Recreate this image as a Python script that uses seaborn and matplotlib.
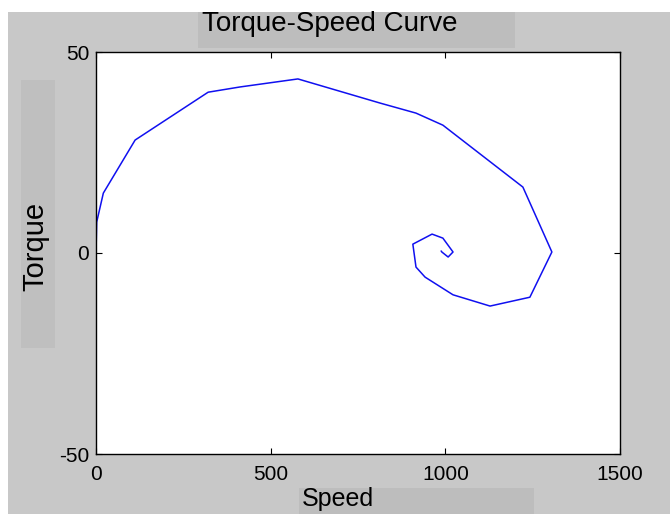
import pandas as pd
import matplotlib
matplotlib.use('Agg')
import matplotlib.pyplot as plt
from matplotlib import font_manager
from matplotlib.patches import Rectangle
import seaborn as sns

# Values
speed = [0, 2, 21, 112, 321, 412, 578, 813, 916, 993, 1222, 1305,
         1242, 1128, 1022, 942, 916, 907, 962, 993, 1022, 1008, 990, 988]
torque = [0, 7.7, 14.9, 28.1, 40.0, 41.3, 43.3, 37.3, 34.8, 31.8, 16.4, 0.25,
          -11.0, -13.2, -10.4, -6.0, -3.5, 2.2, 4.7, 3.7, 0.25, -1.0, 0.25, 0.5]
x_ticks = [0, 500, 1000, 1500]
y_ticks = [-50, 0, 50]

df = pd.DataFrame({'Speed': speed, 'Torque': torque})

sns.set_style('ticks')
names = {f.name for f in font_manager.fontManager.ttflist}
fam = 'Liberation Sans Narrow' if 'Liberation Sans Narrow' in names else 'Liberation Sans'
plt.rcParams['font.family'] = [fam, 'DejaVu Sans']
plt.rcParams['axes.unicode_minus'] = False
plt.rcParams['text.color'] = 'black'
plt.rcParams['axes.labelcolor'] = 'black'

W, H = 670, 514
fig = plt.figure(figsize=(W / 100, H / 100), dpi=100, facecolor='white')

# gray figure panel and the darker boxes behind the labels (pixel coords)
def box(x0, y0, x1, y1, color):
    fig.patches.append(Rectangle((x0 / W, 1 - y1 / H), (x1 - x0) / W, (y1 - y0) / H,
                                 transform=fig.transFigure, facecolor=color,
                                 edgecolor='none', zorder=-10))

box(8, 12, 670, 514, '#c8c8c8')
box(198, 12, 515, 48, '#bdbdbd')
box(21, 80, 55, 348, '#bfbfbf')
box(299, 488, 534, 514, '#bdbdbd')

ax = fig.add_axes([96 / W, 1 - 454 / H, (620 - 96) / W, (454 - 52) / H])
ax.set_facecolor('white')

sns.lineplot(data=df, x='Speed', y='Torque', sort=False, estimator=None,
             color='#1010f0', linewidth=1.1, ax=ax)

ax.set_xlim(0, 1500)
ax.set_ylim(-50, 50)
ax.set_xticks(x_ticks)
ax.set_yticks(y_ticks)
ax.tick_params(direction='in', length=4, width=0.8, top=True, right=True,
               labelsize=15, colors='black')
ax.tick_params(axis='x', pad=8)
ax.tick_params(axis='y', pad=5)
for s in ax.spines.values():
    s.set_visible(True)
    s.set_linewidth(1.0)
    s.set_color('black')

ax.set_title('Torque-Speed Curve', fontsize=20, x=0.4466, y=1.0498, va='center',
             color='black')
ax.set_xlabel('Speed', fontsize=18, va='center')
ax.xaxis.set_label_coords(0.462, -0.112)
ax.set_ylabel('Torque', fontsize=21, va='center')
ax.yaxis.set_label_coords(-0.1164, 0.517)

fig.savefig('out.png', dpi=100, facecolor=fig.get_facecolor())
